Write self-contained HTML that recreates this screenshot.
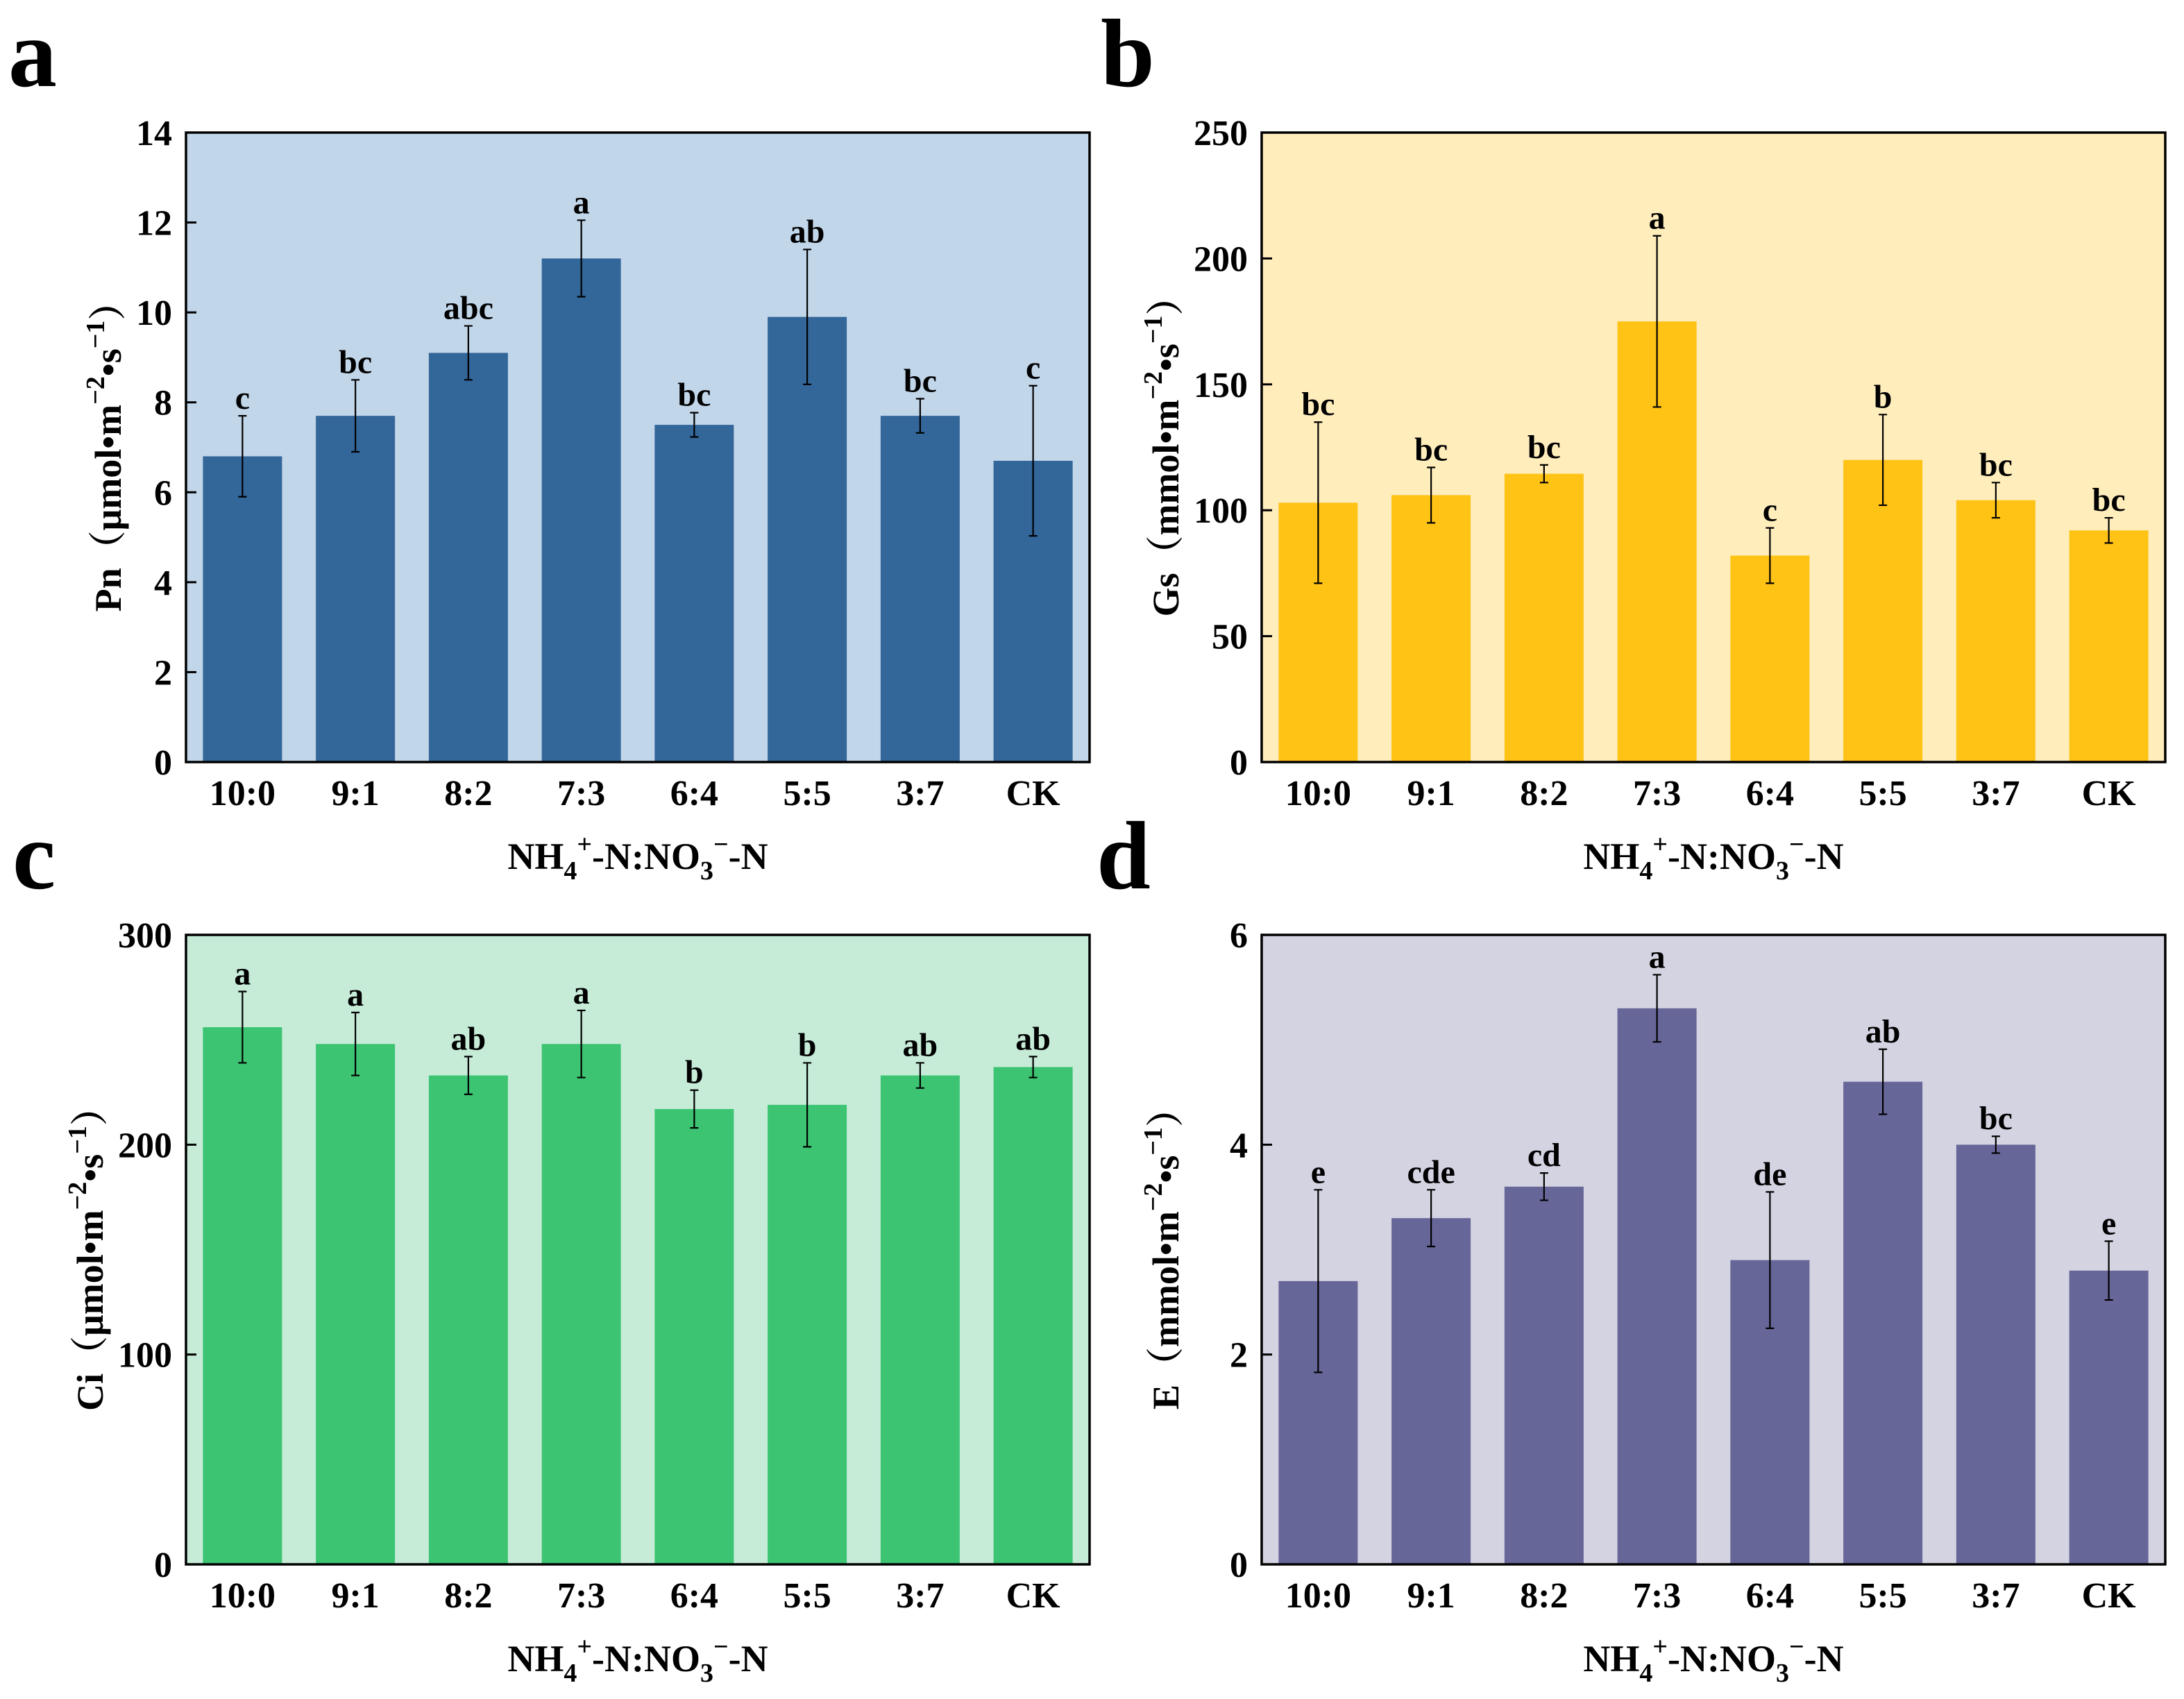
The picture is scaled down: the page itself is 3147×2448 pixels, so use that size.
<!DOCTYPE html>
<html><head><meta charset="utf-8"><style>
html,body{margin:0;padding:0;background:#fff}
svg{display:block;font-family:"Liberation Serif","Noto Serif CJK SC",serif;font-weight:bold}
</style></head><body>
<svg id="fig" width="3147" height="2448" viewBox="0 0 3147 2448" xmlns="http://www.w3.org/2000/svg"></svg>
<script>
const categories = ["10:0","9:1","8:2","7:3","6:4","5:5","3:7","CK"];
const pnValues = [6.8,7.7,9.1,11.2,7.5,9.9,7.7,6.7];
const pnErrors = [0.9,0.8,0.6,0.85,0.27,1.5,0.38,1.67];
const pnLetters = ["c","bc","abc","a","bc","ab","bc","c"];
const pnTicks = [0,2,4,6,8,10,12,14];
const gsValues = [103,106,114.5,175,82,120,104,92];
const gsErrors = [32,11,3.5,34,11,18,7,5];
const gsLetters = ["bc","bc","bc","a","c","b","bc","bc"];
const gsTicks = [0,50,100,150,200,250];
const ciValues = [256,248,233,248,217,219,233,237];
const ciErrors = [17,15,9,16,9,20,6,5];
const ciLetters = ["a","a","ab","a","b","b","ab","ab"];
const ciTicks = [0,100,200,300];
const eValues = [2.7,3.3,3.6,5.3,2.9,4.6,4.0,2.8];
const eErrors = [0.87,0.27,0.13,0.32,0.65,0.31,0.08,0.28];
const eLetters = ["e","cde","cd","a","de","ab","bc","e"];
const eTicks = [0,2,4,6];

const NS="http://www.w3.org/2000/svg";
const fig=document.getElementById('fig');
function mk(tag,attrs,parent,text){const e=document.createElementNS(NS,tag);for(const k in attrs)e.setAttribute(k,attrs[k]);if(text!==undefined)e.textContent=text;(parent||fig).appendChild(e);return e;}

function panel(o){
  const g=mk('g',{});
  
  
  const L=o.x0,R=o.x0+1302,T=o.y0,B=o.y0+907;
  const ymax=o.ticks[o.ticks.length-1];
  const ys=v=>B-(v/ymax)*(B-T);
  const slot=(R-L)/categories.length;
  const xs=i=>L+slot*(i+0.5);
  const bg=mk('rect',{x:L,y:T,width:R-L,height:B-T,fill:o.bg},g);
  
  
  o.values.forEach((v,i)=>{
    const bw=114;
    const r=mk('rect',{x:xs(i)-bw/2,y:ys(v),width:bw,height:B-ys(v),fill:o.bar},g);
    
    
    const e=o.errors[i],yt=ys(v+e),yb=ys(v-e);
    const eb=mk('path',{d:`M${xs(i)} ${yt}V${yb}M${xs(i)-6} ${yt}H${xs(i)+6}M${xs(i)-6} ${yb}H${xs(i)+6}`,stroke:'#000','stroke-width':2.2,fill:'none'},g);
    
    
    const t=mk('text',{x:xs(i),y:yt-10,'text-anchor':'middle','font-size':48},g,o.letters[i]);
    
    
    const xl=mk('text',{x:xs(i),y:B+62,'text-anchor':'middle','font-size':52},g,categories[i]);
    
    
  });
  o.ticks.forEach(tv=>{
    const y=ys(tv);
    const tk=mk('line',{x1:L,x2:L+15,y1:y,y2:y,stroke:'#000','stroke-width':3},g);
    
    
    const tl=mk('text',{x:L-20,y:y+18,'text-anchor':'end','font-size':52},g,tv);
    
    
  });
  const fr=mk('rect',{x:L,y:T,width:R-L,height:B-T,fill:'none',stroke:'#000','stroke-width':3.5},g);
  
  
  const cy=(T+B)/2, cx=L-o.yoff;
  const yl=mk('text',{x:0,y:0,'text-anchor':'middle','font-size':54,transform:`translate(${cx},${cy}) rotate(-90)`},g);
  yl.innerHTML=o.ylab+'（'+o.unit+'mol•m<tspan dy="-24" font-size="38">−2</tspan><tspan dy="24">•s</tspan><tspan dy="-24" font-size="38">−1</tspan><tspan dy="24">）</tspan>';
  
  
  const xt=mk('text',{x:(L+R)/2,y:B+154,'text-anchor':'middle','font-size':54},g);
  xt.innerHTML='NH<tspan dy="15" font-size="38">4</tspan><tspan dy="-38" font-size="38">+</tspan><tspan dy="23">-N:NO</tspan><tspan dy="15" font-size="38">3</tspan><tspan dy="-38" font-size="38">−</tspan><tspan dy="23">-N</tspan>';
  
  
  const pl=mk('text',{x:o.lx,y:o.ly,'font-size':140},g,o.name);
  
  
}
panel({name:'a',x0:268,y0:191,bg:'#c2d6ea',bar:'#336699',values:pnValues,errors:pnErrors,letters:pnLetters,ticks:pnTicks,ylab:'Pn',unit:'μ',lx:12,ly:124,yoff:94});
panel({name:'b',x0:1818,y0:191,bg:'#ffedbc',bar:'#ffc316',values:gsValues,errors:gsErrors,letters:gsLetters,ticks:gsTicks,ylab:'Gs',unit:'m',lx:1586,ly:124,yoff:120});
panel({name:'c',x0:268,y0:1347,bg:'#c6ecd8',bar:'#3cc473',values:ciValues,errors:ciErrors,letters:ciLetters,ticks:ciTicks,ylab:'Ci',unit:'μ',lx:18,ly:1280,yoff:120});
panel({name:'d',x0:1818,y0:1347,bg:'#d4d3e2',bar:'#676698',values:eValues,errors:eErrors,letters:eLetters,ticks:eTicks,ylab:'E',unit:'m',lx:1580,ly:1280,yoff:120});
</script>
</body></html>
